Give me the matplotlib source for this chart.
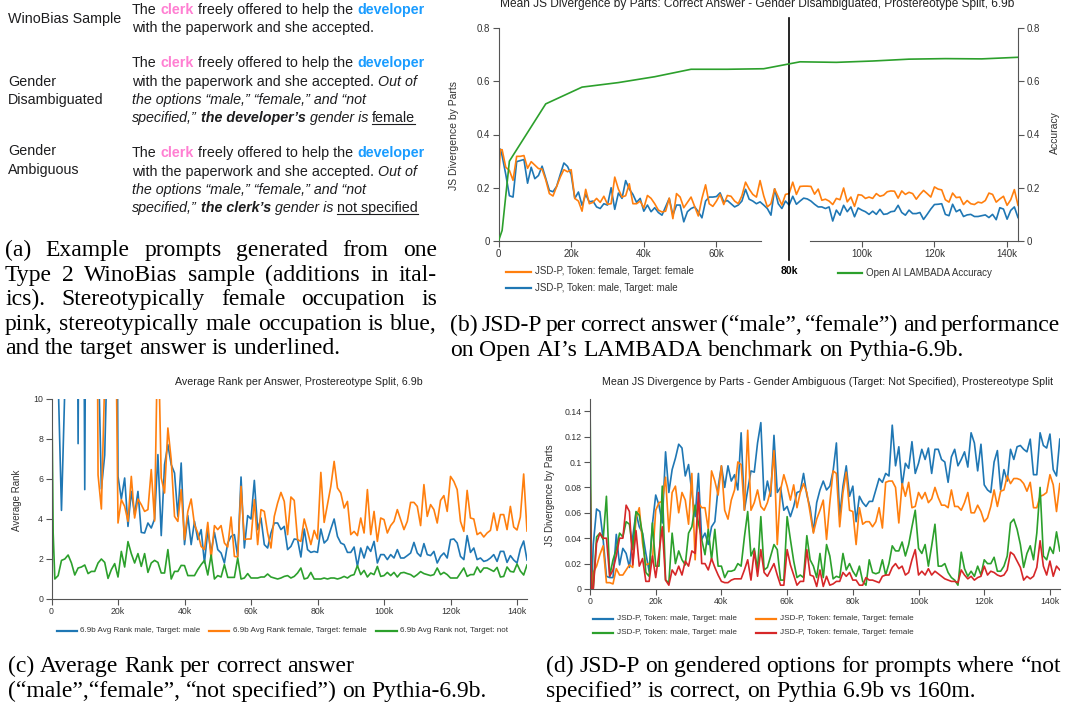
import numpy as np
import matplotlib
matplotlib.use('Agg')
import matplotlib.pyplot as plt
from matplotlib.lines import Line2D
from matplotlib.ticker import FuncFormatter

W, H = 1065, 708
plt.rcParams['font.family'] = ['Liberation Sans', 'DejaVu Sans']

# checkpoint steps in thousands (0.5 stands for the step-512 checkpoint)
STEPS = [0, 0.5] + list(range(1, 144))

# (b) JSD-P, gender disambiguated
B_FEMALE = [0.215, 0.343,
            0.343, 0.277, 0.265, 0.228, 0.318, 0.318, 0.321, 0.273, 0.298, 0.285,
            0.272, 0.270, 0.230, 0.178, 0.169, 0.205, 0.240, 0.268, 0.260, 0.268,
            0.160, 0.150, 0.112, 0.194, 0.140, 0.145, 0.160, 0.145, 0.168, 0.138,
            0.140, 0.240, 0.195, 0.165, 0.170, 0.215, 0.140, 0.140, 0.150, 0.124,
            0.171, 0.160, 0.140, 0.116, 0.109, 0.112, 0.161, 0.084, 0.178, 0.165,
            0.125, 0.145, 0.165, 0.130, 0.094, 0.160, 0.211, 0.140, 0.130, 0.150,
            0.175, 0.137, 0.171, 0.168, 0.150, 0.140, 0.170, 0.221, 0.195, 0.175,
            0.165, 0.227, 0.170, 0.128, 0.140, 0.196, 0.165, 0.135, 0.175, 0.178,
            0.221, 0.175, 0.205, 0.206, 0.206, 0.205, 0.176, 0.195, 0.153, 0.157,
            0.150, 0.137, 0.160, 0.155, 0.199, 0.147, 0.165, 0.130, 0.174, 0.172,
            0.160, 0.165, 0.160, 0.178, 0.168, 0.172, 0.185, 0.188, 0.187, 0.161,
            0.188, 0.175, 0.183, 0.178, 0.157, 0.175, 0.190, 0.178, 0.165, 0.203,
            0.195, 0.192, 0.155, 0.146, 0.180, 0.163, 0.165, 0.137, 0.152, 0.140,
            0.137, 0.146, 0.143, 0.152, 0.180, 0.175, 0.146, 0.158, 0.168, 0.134,
            0.155, 0.193, 0.134]
B_MALE = [0.330, 0.345,
          0.320, 0.250, 0.170, 0.165, 0.298, 0.302, 0.306, 0.217, 0.277, 0.234,
          0.246, 0.281, 0.235, 0.190, 0.185, 0.205, 0.250, 0.293, 0.280, 0.250,
          0.160, 0.184, 0.134, 0.175, 0.147, 0.150, 0.128, 0.122, 0.140, 0.135,
          0.200, 0.119, 0.180, 0.160, 0.227, 0.195, 0.175, 0.145, 0.160, 0.112,
          0.135, 0.110, 0.125, 0.107, 0.097, 0.128, 0.160, 0.097, 0.135, 0.135,
          0.072, 0.110, 0.122, 0.128, 0.110, 0.087, 0.150, 0.165, 0.165, 0.167,
          0.181, 0.147, 0.152, 0.140, 0.128, 0.135, 0.150, 0.194, 0.157, 0.150,
          0.140, 0.147, 0.135, 0.122, 0.097, 0.196, 0.140, 0.122, 0.150, 0.135,
          0.168, 0.138, 0.150, 0.161, 0.158, 0.150, 0.138, 0.128, 0.128, 0.122,
          0.128, 0.075, 0.116, 0.097, 0.134, 0.110, 0.128, 0.091, 0.124, 0.116,
          0.110, 0.100, 0.112, 0.100, 0.119, 0.100, 0.102, 0.110, 0.112, 0.134,
          0.107, 0.097, 0.116, 0.103, 0.103, 0.107, 0.081, 0.100, 0.120, 0.137,
          0.138, 0.140, 0.100, 0.095, 0.138, 0.110, 0.118, 0.092, 0.098, 0.100,
          0.092, 0.092, 0.095, 0.098, 0.088, 0.100, 0.080, 0.125, 0.120, 0.082,
          0.115, 0.128, 0.088]
LAMBADA_STEPS = [0, 1, 3, 13, 23, 33, 43, 53, 63, 73, 83, 93, 103, 113, 123, 133, 143]
LAMBADA_ACC = [0, 0.04, 0.30, 0.515, 0.578, 0.595, 0.617, 0.645, 0.645, 0.647,
               0.673, 0.671, 0.676, 0.683, 0.685, 0.684, 0.690]

# (c) average rank (values above 10 run off the top of the plot)
C_MALE = [40, 40,
          40, 11, 4.43, 10.5, 40, 40, 40, 7.77, 40, 5.47,
          40, 40, 40, 13, 5.5, 7.2, 14, 40, 40, 6.13,
          5.0, 6.05, 3.63, 5.38, 4.22, 5.38, 3.33, 3.3, 3.8, 3.55,
          4.0, 7.22, 3.17, 6.72, 7.72, 6.72, 6.3, 4.13, 6.8, 2.72,
          4.17, 2.72, 3.88, 2.97, 3.47, 1.8, 3.43, 2.33, 3.33, 2.47,
          2.3, 1.8, 2.8, 3.13, 3.22, 2.13, 6.1, 2.55, 4.17, 4.0,
          5.93, 3.47, 4.05, 2.72, 2.55, 3.3, 3.8, 3.8, 3.47, 3.63,
          2.47, 2.63, 3.0, 2.97, 2.1, 3.5, 2.47, 2.33, 2.38, 2.33,
          3.5, 2.8, 2.97, 3.5, 4.0, 3.13, 2.8, 2.72, 2.33, 2.33,
          2.6, 1.63, 2.55, 2.05, 2.63, 2.38, 2.88, 1.8, 2.22, 2.22,
          1.97, 2.22, 2.05, 2.47, 2.05, 2.05, 2.17, 2.3, 2.83, 2.3,
          2.13, 2.77, 2.22, 2.17, 2.38, 1.8, 2.13, 2.3, 2.05, 2.97,
          3.0, 2.8, 2.13, 1.97, 3.17, 2.33, 2.55, 1.97, 2.05, 1.88,
          1.93, 2.05, 2.22, 1.88, 2.38, 2.38, 1.83, 2.17, 1.95, 1.8,
          2.5, 2.9, 1.95]
C_FEMALE = [40, 40,
            40, 40, 40, 40, 40, 40, 40, 40, 40, 40,
            40, 40, 40, 6.2, 4.5, 11, 40, 40, 19, 3.8,
            4.97, 4.63, 3.88, 6.13, 4.05, 5.0, 4.72, 4.38, 4.47, 6.47,
            3.9, 14, 6.05, 5.3, 8.55, 6.97, 4.13, 3.88, 5.47, 2.97,
            4.38, 5.0, 3.72, 3.3, 2.63, 2.47, 3.83, 2.0, 3.67, 3.47,
            3.67, 2.8, 2.6, 4.1, 2.13, 2.1, 5.63, 2.97, 3.0, 3.0,
            4.97, 2.72, 4.47, 4.38, 3.3, 2.55, 4.13, 4.8, 5.33, 4.88,
            3.22, 5.1, 4.93, 2.97, 2.88, 4.0, 3.38, 2.72, 3.43, 3.0,
            6.33, 3.83, 4.72, 5.63, 6.88, 5.55, 5.3, 4.55, 4.88, 3.22,
            3.38, 3.17, 4.05, 3.3, 5.47, 3.22, 4.38, 2.88, 4.05, 3.97,
            3.3, 3.67, 3.88, 4.47, 3.97, 3.47, 3.88, 4.83, 4.83, 4.63,
            3.67, 5.72, 4.13, 4.72, 4.47, 3.8, 4.93, 5.17, 4.38, 6.13,
            5.88, 5.47, 3.88, 3.38, 5.43, 4.05, 4.0, 3.22, 3.33, 3.1,
            3.3, 3.43, 4.3, 3.43, 4.22, 4.22, 3.47, 4.63, 3.6, 3.45,
            4.1, 6.25, 3.4]
C_NOT = [12, 3.3,
         1.0, 1.17, 1.93, 2.0, 2.2, 1.8, 1.2, 1.55, 1.6, 1.7,
         1.27, 1.38, 1.38, 1.8, 2.0, 1.83, 1.03, 1.47, 1.77, 1.1,
         2.38, 1.6, 2.87, 2.27, 1.8, 2.27, 1.63, 2.27, 1.33, 1.8,
         1.93, 1.83, 1.3, 1.3, 2.47, 1.0, 1.38, 1.38, 1.68, 1.67,
         1.17, 1.17, 1.17, 1.47, 1.72, 1.93, 1.2, 2.2, 1.0, 1.17,
         1.1, 1.72, 1.08, 1.08, 1.08, 2.05, 1.0, 1.05, 1.27, 1.05,
         1.05, 1.05, 1.1, 1.1, 1.25, 1.1, 1.05, 1.0, 1.05, 1.13,
         1.17, 1.05, 1.13, 1.3, 1.55, 1.0, 1.05, 1.33, 1.0, 1.0,
         1.0, 1.05, 1.0, 1.05, 1.05, 1.0, 1.05, 1.13, 1.05, 1.17,
         1.22, 1.67, 1.22, 1.43, 1.1, 1.3, 1.22, 1.63, 1.13, 1.17,
         1.33, 1.17, 1.33, 1.1, 1.3, 1.33, 1.27, 1.22, 1.1, 1.22,
         1.37, 1.27, 1.22, 1.17, 1.22, 1.55, 1.22, 1.33, 1.22, 1.05,
         1.05, 1.05, 1.3, 1.55, 1.13, 1.22, 1.22, 1.6, 1.33, 1.55,
         1.55, 1.47, 1.38, 1.58, 1.1, 1.13, 1.6, 1.38, 1.35, 1.75,
         1.4, 1.2, 1.7]

# (d) JSD-P, gender ambiguous
D_MALE = [0.0, 0.0,
          0.035, 0.063, 0.061, 0.039, 0.010, 0.009, 0.009, 0.043, 0.019, 0.032,
          0.028, 0.017, 0.041, 0.060, 0.049, 0.044, 0.028, 0.014, 0.051, 0.074,
          0.066, 0.052, 0.108, 0.076, 0.094, 0.103, 0.114, 0.111, 0.089, 0.098,
          0.076, 0.057, 0.091, 0.039, 0.044, 0.035, 0.049, 0.053, 0.080, 0.097,
          0.080, 0.097, 0.085, 0.090, 0.078, 0.123, 0.062, 0.078, 0.093, 0.092,
          0.115, 0.131, 0.070, 0.085, 0.073, 0.121, 0.076, 0.080, 0.062, 0.065,
          0.057, 0.065, 0.076, 0.077, 0.091, 0.074, 0.064, 0.045, 0.068, 0.078,
          0.085, 0.078, 0.081, 0.093, 0.115, 0.057, 0.081, 0.097, 0.073, 0.081,
          0.053, 0.073, 0.068, 0.065, 0.069, 0.069, 0.078, 0.087, 0.084, 0.091,
          0.089, 0.129, 0.097, 0.112, 0.081, 0.099, 0.095, 0.116, 0.091, 0.099,
          0.110, 0.102, 0.111, 0.091, 0.110, 0.110, 0.102, 0.100, 0.084, 0.104,
          0.110, 0.097, 0.102, 0.108, 0.096, 0.123, 0.115, 0.093, 0.114, 0.082,
          0.078, 0.076, 0.100, 0.109, 0.078, 0.094, 0.085, 0.110, 0.102, 0.112,
          0.113, 0.110, 0.108, 0.118, 0.090, 0.090, 0.123, 0.113, 0.111, 0.122,
          0.094, 0.089, 0.118]
D_FEMALE = [0.0, 0.0,
            0.013, 0.018, 0.027, 0.034, 0.005, 0.005, 0.004, 0.016, 0.011, 0.011,
            0.015, 0.019, 0.017, 0.056, 0.064, 0.036, 0.019, 0.020, 0.022, 0.062,
            0.068, 0.069, 0.088, 0.045, 0.076, 0.081, 0.060, 0.076, 0.070, 0.051,
            0.091, 0.023, 0.068, 0.064, 0.064, 0.047, 0.093, 0.085, 0.074, 0.097,
            0.062, 0.055, 0.070, 0.078, 0.100, 0.098, 0.062, 0.125, 0.062, 0.068,
            0.078, 0.065, 0.062, 0.068, 0.078, 0.109, 0.035, 0.078, 0.090, 0.081,
            0.070, 0.082, 0.064, 0.076, 0.083, 0.076, 0.060, 0.044, 0.055, 0.062,
            0.070, 0.039, 0.068, 0.093, 0.091, 0.049, 0.076, 0.092, 0.062, 0.061,
            0.035, 0.064, 0.051, 0.053, 0.053, 0.049, 0.053, 0.064, 0.048, 0.084,
            0.085, 0.085, 0.080, 0.052, 0.083, 0.073, 0.084, 0.064, 0.065, 0.076,
            0.071, 0.076, 0.068, 0.071, 0.080, 0.072, 0.066, 0.066, 0.064, 0.078,
            0.065, 0.065, 0.062, 0.068, 0.076, 0.060, 0.060, 0.066, 0.061, 0.053,
            0.056, 0.065, 0.078, 0.065, 0.077, 0.078, 0.089, 0.083, 0.087, 0.087,
            0.086, 0.083, 0.077, 0.084, 0.064, 0.064, 0.073, 0.074, 0.076, 0.090,
            0.082, 0.061, 0.083]
D_MALE_B = [0.15, 0.0,
            0.001, 0.041, 0.044, 0.039, 0.073, 0.010, 0.023, 0.031, 0.044, 0.041,
            0.053, 0.051, 0.031, 0.061, 0.058, 0.043, 0.013, 0.010, 0.052, 0.018,
            0.018, 0.081, 0.007, 0.005, 0.044, 0.020, 0.030, 0.023, 0.019, 0.044,
            0.049, 0.066, 0.052, 0.039, 0.027, 0.047, 0.023, 0.047, 0.018, 0.018,
            0.009, 0.014, 0.014, 0.015, 0.020, 0.018, 0.041, 0.061, 0.026, 0.032,
            0.015, 0.057, 0.015, 0.017, 0.026, 0.035, 0.031, 0.007, 0.007, 0.057,
            0.039, 0.022, 0.009, 0.011, 0.009, 0.042, 0.023, 0.018, 0.009, 0.028,
            0.009, 0.035, 0.026, 0.008, 0.010, 0.009, 0.028, 0.015, 0.020, 0.014,
            0.010, 0.018, 0.006, 0.003, 0.023, 0.013, 0.012, 0.013, 0.023, 0.011,
            0.020, 0.034, 0.030, 0.030, 0.037, 0.026, 0.035, 0.049, 0.062, 0.032,
            0.028, 0.035, 0.018, 0.034, 0.051, 0.018, 0.018, 0.020, 0.013, 0.009,
            0.007, 0.003, 0.029, 0.016, 0.010, 0.014, 0.010, 0.018, 0.011, 0.023,
            0.020, 0.020, 0.025, 0.014, 0.014, 0.018, 0.026, 0.052, 0.055, 0.047,
            0.035, 0.017, 0.028, 0.034, 0.023, 0.044, 0.080, 0.026, 0.023, 0.033,
            0.028, 0.045, 0.030]
D_FEMALE_B = [0.092, 0.0,
              0.000, 0.036, 0.044, 0.040, 0.040, 0.010, 0.015, 0.026, 0.040, 0.040,
              0.066, 0.061, 0.019, 0.046, 0.018, 0.024, 0.006, 0.006, 0.026, 0.009,
              0.028, 0.049, 0.007, 0.003, 0.015, 0.011, 0.018, 0.011, 0.022, 0.018,
              0.030, 0.028, 0.076, 0.020, 0.020, 0.015, 0.024, 0.017, 0.011, 0.006,
              0.005, 0.005, 0.007, 0.008, 0.008, 0.008, 0.015, 0.023, 0.007, 0.030,
              0.010, 0.031, 0.013, 0.010, 0.015, 0.020, 0.011, 0.003, 0.003, 0.031,
              0.019, 0.011, 0.003, 0.006, 0.006, 0.031, 0.011, 0.010, 0.002, 0.015,
              0.002, 0.010, 0.003, 0.004, 0.006, 0.006, 0.013, 0.010, 0.013, 0.007,
              0.007, 0.003, 0.003, 0.009, 0.007, 0.007, 0.006, 0.005, 0.010, 0.011,
              0.011, 0.017, 0.020, 0.016, 0.018, 0.011, 0.013, 0.023, 0.031, 0.011,
              0.014, 0.011, 0.016, 0.011, 0.014, 0.012, 0.010, 0.008, 0.007, 0.006,
              0.006, 0.005, 0.015, 0.011, 0.008, 0.010, 0.007, 0.009, 0.010, 0.018,
              0.011, 0.014, 0.013, 0.011, 0.010, 0.011, 0.015, 0.029, 0.027, 0.022,
              0.017, 0.007, 0.010, 0.008, 0.010, 0.017, 0.038, 0.018, 0.011, 0.022,
              0.010, 0.018, 0.015]

BLUE, ORANGE, GREEN, RED = '#1f77b4', '#ff7f0e', '#2ca02c', '#d62728'
AX_C = '#555555'
TXT = '#1d1d1f'

fig = plt.figure(figsize=(W / 100, H / 100), dpi=100)
rend = fig.canvas.get_renderer()


def fx(px):
    return px / W


def fy(py):
    return 1 - py / H


def width_of(t):
    return t.get_window_extent(rend).width


_spaces = {}


def space_w(size, family, weight='normal', style='normal'):
    key = (size, family, weight, style)
    if key not in _spaces:
        a = fig.text(0, 0, 'n n', fontsize=size, family=family, fontweight=weight, fontstyle=style)
        b = fig.text(0, 0, 'nn', fontsize=size, family=family, fontweight=weight, fontstyle=style)
        _spaces[key] = width_of(a) - width_of(b)
        a.remove()
        b.remove()
    return _spaces[key]


def runs(x, y, parts, size=10.3, family='Liberation Sans'):
    # a line made of differently styled pieces, one space between pieces
    for txt, st in parts:
        w, s = st.get('weight', 'normal'), st.get('style', 'normal')
        t = fig.text(fx(x), fy(y), txt, fontsize=size, family=family, fontweight=w,
                     fontstyle=s, color=st.get('color', TXT), va='baseline', ha='left')
        tw = width_of(t)
        if st.get('underline'):
            fig.add_artist(Line2D([fx(x), fx(x + tw)], [fy(y + 2.4)] * 2, lw=0.8, color=TXT))
        x += tw + space_w(size, family, w, s)


def caption(x0, x1, y, line, justify, size=17, family='Liberation Serif'):
    words = line.split()
    ts = [fig.text(0, fy(y), w, fontsize=size, family=family, color='black', va='baseline')
          for w in words]
    ws = [width_of(t) for t in ts]
    sp = space_w(size, family)
    if justify and len(words) > 1:
        gap = max((x1 - x0 - sum(ws)) / (len(words) - 1), sp * 0.4)
    else:
        gap = sp
    x = x0
    for t, w in zip(ts, ws):
        t.set_x(fx(x))
        x += w + gap


# ---------------- panel (a): prompt table ----------------
N = {}
PINK = {'color': '#ff7fd2', 'weight': 'bold'}
DEVB = {'color': '#1a9cff', 'weight': 'bold'}
IT = {'style': 'italic'}
BI = {'style': 'italic', 'weight': 'bold'}
UL = {'underline': True}
first = [('The', N), ('clerk', PINK), ('freely offered to help the', N), ('developer', DEVB)]
OFF = 5

for lbl, yy in [('WinoBias Sample', 18), ('Gender', 81), ('Disambiguated', 99),
                ('Gender', 150), ('Ambiguous', 169)]:
    runs(8, yy + OFF, [(lbl, N)])

runs(132, 9 + OFF, first)
runs(132, 27 + OFF, [('with the paperwork and she accepted.', N)])

runs(132, 62 + OFF, first)
runs(132, 81 + OFF, [('with the paperwork and she accepted.', N), ('Out of', IT)])
runs(132, 99 + OFF, [('the options \u201cmale,\u201d \u201cfemale,\u201d and \u201cnot', IT)])
runs(132, 117 + OFF, [('specified,\u201d', IT), ('the developer\u2019s', BI), ('gender is', IT),
                      ('female', UL)])

runs(132, 152 + OFF, first)
runs(132, 171 + OFF, [('with the paperwork and she accepted.', N), ('Out of', IT)])
runs(132, 189 + OFF, [('the options \u201cmale,\u201d \u201cfemale,\u201d and \u201cnot', IT)])
runs(132, 207 + OFF, [('specified,\u201d', IT), ('the clerk\u2019s', BI), ('gender is', IT),
                      ('not specified', UL)])

# ---------------- captions ----------------
cap_a = ['(a) Example prompts generated from one',
         'Type 2 WinoBias sample (additions in ital-',
         'ics).  Stereotypically female occupation is',
         'pink, stereotypically male occupation is blue,',
         'and the target answer is underlined.']
for i, ln in enumerate(cap_a):
    caption(5, 437, 256 + i * 24.6, ln, i < 4)
caption(450, 1060, 331, '(b) JSD-P per correct answer (\u201cmale\u201d, \u201cfemale\u201d) and performance', True)
caption(450, 1060, 356, 'on Open AI\u2019s LAMBADA benchmark on Pythia-6.9b.', False)
caption(8, 500, 672, '(c) Average Rank per correct answer', False)
caption(8, 500, 697, '(\u201cmale\u201d,\u201cfemale\u201d, \u201cnot specified\u201d) on Pythia-6.9b.', False)
caption(546, 1061, 672, '(d) JSD-P on gendered options for prompts where \u201cnot', True)
caption(546, 1061, 697, 'specified\u201d is correct, on Pythia 6.9b vs 160m.', False)


# ---------------- chart helpers ----------------
def kfmt(v, p):
    return '0' if v == 0 else f'{int(round(v))}k'


def gfmt(v, p):
    return f'{v:g}'


def style_axes(ax, lsize):
    for s in ['top', 'right']:
        ax.spines[s].set_visible(False)
    for s in ['left', 'bottom']:
        ax.spines[s].set_color(AX_C)
        ax.spines[s].set_linewidth(0.8)
    ax.tick_params(direction='out', length=4, width=0.8, color=AX_C,
                   labelsize=lsize, labelcolor='#333333', pad=2)
    ax.xaxis.set_major_formatter(FuncFormatter(kfmt))
    ax.yaxis.set_major_formatter(FuncFormatter(gfmt))
    ax.patch.set_alpha(0)


def legend_item(x0, y, color, label, size, sample=20):
    fig.add_artist(Line2D([fx(x0), fx(x0 + sample)], [fy(y)] * 2, color=color, lw=1.6))
    fig.text(fx(x0 + sample + 4), fy(y), label, fontsize=size, color='#333333', va='center')


def add_axes_px(left, right, top, bottom):
    return fig.add_axes([fx(left), fy(bottom), (right - left) / W, (bottom - top) / H])


# ---------------- panel (b) ----------------
axb = add_axes_px(498.5, 1018, 28, 241)
style_axes(axb, 7)
axb.plot(STEPS, B_MALE, color=BLUE, lw=1.2)
axb.plot(STEPS, B_FEMALE, color=ORANGE, lw=1.2)
axb.set_xlim(0, 143)
axb.set_ylim(0, 0.8)
axb.set_xticks([0, 20, 40, 60, 100, 120, 140])
axb.set_yticks([0, 0.2, 0.4, 0.6, 0.8])
axb.spines['bottom'].set_visible(False)
axb.plot([0, 72.3], [0, 0], color=AX_C, lw=0.8, clip_on=False)
axb.plot([85.7, 143], [0, 0], color=AX_C, lw=0.8, clip_on=False)
ax2 = axb.twinx()
ax2.plot(LAMBADA_STEPS, LAMBADA_ACC, color=GREEN, lw=1.2)
ax2.set_ylim(0, 0.8)
ax2.set_yticks([0, 0.2, 0.4, 0.6, 0.8])
for s in ['top', 'left', 'bottom']:
    ax2.spines[s].set_visible(False)
ax2.spines['right'].set_color(AX_C)
ax2.spines['right'].set_linewidth(0.8)
ax2.tick_params(direction='out', length=4, width=0.8, color=AX_C,
                labelsize=7, labelcolor='#333333', pad=2)
ax2.yaxis.set_major_formatter(FuncFormatter(gfmt))
axb.axvline(80, ymin=-0.09, ymax=1.047, color='black', lw=1.2, clip_on=False)

fig.text(fx(757.5), fy(7.5), 'Mean JS Divergence by Parts: Correct Answer - Gender Disambiguated, '
         'Prostereotype Split, 6.9b', fontsize=8.6, color='#222222', ha='center', va='baseline')
fig.text(fx(454), fy(135), 'JS Divergence by Parts', fontsize=7.5, color='#333333',
         rotation=90, ha='center', va='center')
fig.text(fx(1055), fy(133), 'Accuracy', fontsize=7.5, color='#333333',
         rotation=90, ha='center', va='center')
legend_item(506, 271.5, ORANGE, 'JSD-P, Token: female, Target: female', 7, sample=25)
legend_item(506, 288, BLUE, 'JSD-P, Token: male, Target: male', 7, sample=25)
legend_item(838, 272.5, GREEN, 'Open AI LAMBADA Accuracy', 7, sample=24)
fig.text(fx(789), fy(271.5), '80k', fontsize=7.5, fontweight='bold', ha='center', va='center')

# ---------------- panel (c) ----------------
axc = add_axes_px(51.5, 527, 399, 599)
style_axes(axc, 6.3)
axc.plot(STEPS, C_MALE, color=BLUE, lw=1.2)
axc.plot(STEPS, C_FEMALE, color=ORANGE, lw=1.2)
axc.plot(STEPS, C_NOT, color=GREEN, lw=1.2)
axc.set_xlim(0, 143)
axc.set_ylim(0, 10)
axc.set_xticks(list(range(0, 141, 20)))
axc.set_yticks(list(range(0, 11, 2)))
fig.text(fx(298.5), fy(385), 'Average Rank per Answer, Prostereotype Split, 6.9b', fontsize=7.7,
         color='#222222', ha='center', va='baseline')
fig.text(fx(17), fy(500), 'Average Rank', fontsize=7, color='#333333', rotation=90,
         ha='center', va='center')
legend_item(56.5, 631, BLUE, '6.9b Avg Rank male, Target: male', 5.8)
legend_item(209, 631, ORANGE, '6.9b Avg Rank female, Target: female', 5.8)
legend_item(376.5, 631, GREEN, '6.9b Avg Rank not, Target: not', 5.8)

# ---------------- panel (d) ----------------
axd = add_axes_px(590, 1059.8, 398.5, 589)
style_axes(axd, 6.3)
axd.plot(STEPS, D_MALE, color=BLUE, lw=1.2)
axd.plot(STEPS, D_FEMALE, color=ORANGE, lw=1.2)
axd.plot(STEPS, D_MALE_B, color=GREEN, lw=1.2)
axd.plot(STEPS, D_FEMALE_B, color=RED, lw=1.2)
axd.set_xlim(0, 143)
axd.set_ylim(0, 0.15)
axd.set_xticks(list(range(0, 141, 20)))
axd.set_yticks(np.arange(0, 0.141, 0.02))
fig.text(fx(828), fy(385), 'Mean JS Divergence by Parts - Gender Ambiguous (Target: Not Specified), '
         'Prostereotype Split', fontsize=7.7, color='#222222', ha='center', va='baseline')
fig.text(fx(550), fy(495), 'JS Divergence by Parts', fontsize=7, color='#333333', rotation=90,
         ha='center', va='center')
legend_item(593, 618.5, BLUE, 'JSD-P, Token: male, Target: male', 5.9)
legend_item(756, 618.5, ORANGE, 'JSD-P, Token: female, Target: female', 5.9)
legend_item(593, 632.5, GREEN, 'JSD-P, Token: male, Target: male', 5.9)
legend_item(756, 632.5, RED, 'JSD-P, Token: female, Target: female', 5.9)

fig.savefig('out.png', dpi=100, facecolor='white')
